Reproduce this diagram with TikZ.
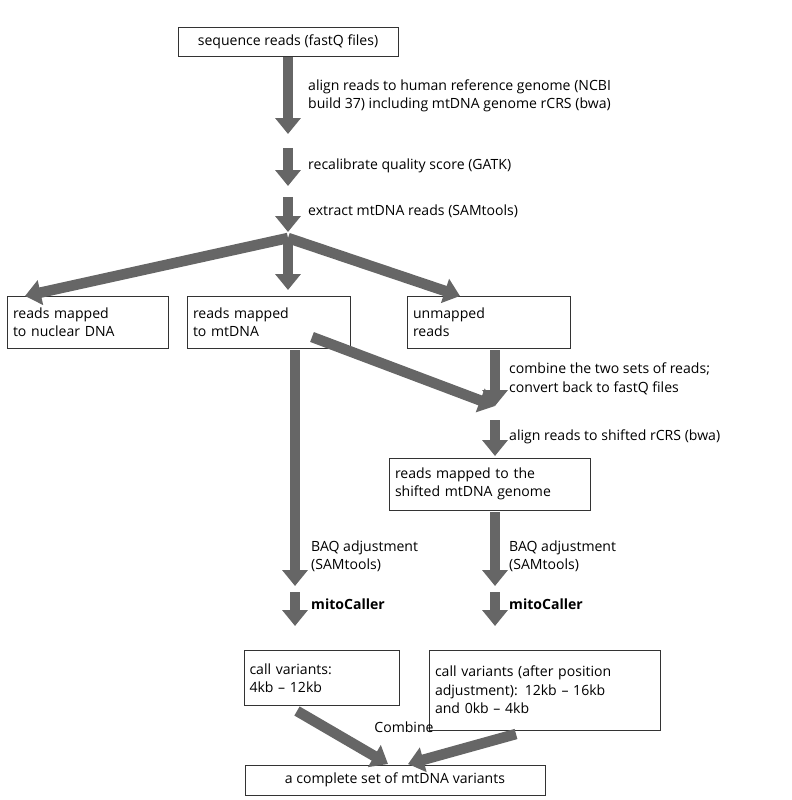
\documentclass[tikz,border=0pt]{standalone}
\usepackage{fontspec}
\setmainfont{Open Sans}
\usetikzlibrary{arrows.meta, positioning}
\definecolor{flowgray}{HTML}{666666}
\tikzset{
  box/.style={draw=black!80, thin, align=left, inner sep=3pt, font=\fontsize{8}{10.5}\selectfont},
  flow/.style={draw=flowgray, line width=6pt, -{Triangle[length=9pt, width=14pt]}},
  lbl/.style={align=left, anchor=west, font=\fontsize{8}{10.5}\selectfont}
}
\begin{document}
\begin{tikzpicture}[x=0.02cm, y=-0.02cm]
  \useasboundingbox (0,0) rectangle (791,800);

  % --- boxes ---
  \node[box, minimum width=220*0.02cm, minimum height=29*0.02cm, align=center] (reads) at (288,42) {sequence reads (fastQ files)};
  \node[box, minimum width=160*0.02cm, minimum height=52*0.02cm, text width=150*0.02cm] (nuclear) at (88,322) {reads mapped\\to nuclear DNA};
  \node[box, minimum width=162*0.02cm, minimum height=52*0.02cm, text width=152*0.02cm] (mt) at (269,322) {reads mapped\\to mtDNA};
  \node[box, minimum width=162*0.02cm, minimum height=52*0.02cm, text width=152*0.02cm] (unmapped) at (489,322) {unmapped\\reads};
  \node[box, minimum width=200*0.02cm, minimum height=52*0.02cm, text width=190*0.02cm] (shifted) at (490,484) {reads mapped to the\\shifted mtDNA genome};
  \node[box, minimum width=155*0.02cm, minimum height=55*0.02cm, text width=145*0.02cm] (callA) at (322,678) {call variants:\\4kb – 12kb};
  \node[box, minimum width=230*0.02cm, minimum height=80*0.02cm, text width=220*0.02cm] (callB) at (545,690) {call variants (after position\\adjustment): 12kb – 16kb\\and 0kb – 4kb};
  \node[box, minimum width=300*0.02cm, minimum height=30*0.02cm, align=center] (all) at (395,780) {a complete set of mtDNA variants};

  % --- helper points ---
  \coordinate (a1) at (288,134);
  \coordinate (b0) at (288,148);
  \coordinate (b1) at (288,186);
  \coordinate (c0) at (288,197);
  \coordinate (c1) at (288,232);
  \coordinate (d0) at (288,238);
  \coordinate (dl) at (25,296);
  \coordinate (dm) at (288,290);
  \coordinate (dr) at (460,296);
  \coordinate (m0) at (295,350);
  \coordinate (m1) at (295,586);
  \coordinate (m2) at (295,592);
  \coordinate (m3) at (295,626);
  \coordinate (x0) at (312,337);
  \coordinate (r0) at (495,350);
  \coordinate (r1) at (495,406);
  \coordinate (r2) at (495,420);
  \coordinate (r3) at (495,456);
  \coordinate (s0) at (495,512);
  \coordinate (s1) at (495,586);
  \coordinate (s2) at (495,592);
  \coordinate (s3) at (495,626);
  \coordinate (j0) at (297,711);
  \coordinate (j1) at (388,764);
  \coordinate (k0) at (516,734);
  \coordinate (k1) at (408,764);

  % --- top column ---
  \draw[flow] (reads) -- (a1);
  \draw[flow] (b0) -- (b1);
  \draw[flow] (c0) -- (c1);
  \draw[flow] (d0) -- (dl);
  \draw[flow] (d0) -- (dm);
  \draw[flow] (d0) -- (dr);
  \node[lbl] (l1) at (302,96) {align reads to human reference genome (NCBI\\build 37) including mtDNA genome rCRS (bwa)};
  \node[lbl] (l2) at (302,166) {recalibrate quality score (GATK)};
  \node[lbl] (l3) at (302,211) {extract mtDNA reads (SAMtools)};

  % --- left column ---
  \draw[flow] (m0) -- (m1);
  \draw[flow] (m2) -- (m3);
  \node[lbl] (l4) at (305,556) {BAQ adjustment\\(SAMtools)};
  \node[lbl] (l5) at (305,604) {\textbf{mitoCaller}};

  % --- right column ---
  \draw[flow] (x0) -- (r1);
  \draw[flow] (r0) -- (r1);
  \draw[flow] (r2) -- (r3);
  \draw[flow] (s0) -- (s1);
  \draw[flow] (s2) -- (s3);
  \node[lbl] (l6) at (503,379) {combine the two sets of reads;\\convert back to fastQ files};
  \node[lbl] (l7) at (503,437) {align reads to shifted rCRS (bwa)};
  \node[lbl] (l8) at (503,556) {BAQ adjustment\\(SAMtools)};
  \node[lbl] (l9) at (503,604) {\textbf{mitoCaller}};

  % --- combine ---
  \draw[flow] (j0) -- (j1);
  \draw[flow] (k0) -- (k1);
  \node[lbl, anchor=center] (l10) at (404,727) {Combine};
\end{tikzpicture}
\end{document}
